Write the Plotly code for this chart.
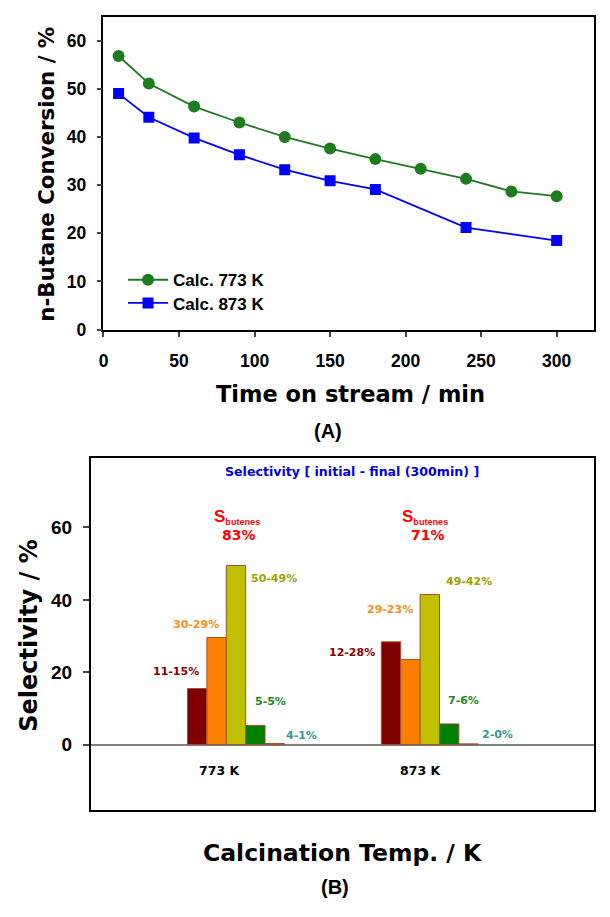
import plotly.graph_objects as go

# ---------- Data (A) ----------
time_773 = [10, 30, 60, 90, 120, 150, 180, 210, 240, 270, 300]
conv_773 = [56.8, 51.1, 46.3, 43.0, 40.0, 37.6, 35.4, 33.4, 31.3, 28.7, 27.7]
time_873 = [10, 30, 60, 90, 120, 150, 180, 240, 300]
conv_873 = [49.0, 44.1, 39.8, 36.3, 33.2, 30.9, 29.1, 21.2, 18.5]
x_ticks_a = [0, 50, 100, 150, 200, 250, 300]
y_ticks_a = [0, 10, 20, 30, 40, 50, 60]

# ---------- Data (B) ----------
calc_temps = ["773 K", "873 K"]
calc_pos = [1, 2]
sel_series = ["s1", "s2", "s3", "s4", "s5"]
sel_values = [
    [15.5, 28.4],
    [29.6, 23.5],
    [49.5, 41.5],
    [5.3, 5.7],
    [0.3, 0.2],
]
sel_labels = [
    ["11-15%", "12-28%"],
    ["30-29%", "29-23%"],
    ["50-49%", "49-42%"],
    ["5-5%", "7-6%"],
    ["4-1%", "2-0%"],
]
s_butenes = ["83%", "71%"]
y_ticks_b = [0, 20, 40, 60]

bar_colors = ["#800000", "#FF8000", "#C0C000", "#008000", "#2E9A9A"]
label_colors = ["#8B0000", "#FF8C1A", "#A0A000", "#1E8A1E", "#2E9A9A"]

W, H = 610, 917
def px(x):
    return x / W
def py(y):
    return 1 - y / H

fig = go.Figure()

# (A) lines
fig.add_trace(go.Scatter(
    x=time_773, y=conv_773, mode="lines+markers", name="Calc. 773 K",
    line=dict(color="#1E7B1E", width=1.8),
    marker=dict(symbol="circle", size=12, color="#1E7B1E"),
    xaxis="x", yaxis="y", legend="legend"))
fig.add_trace(go.Scatter(
    x=time_873, y=conv_873, mode="lines+markers", name="Calc. 873 K",
    line=dict(color="#0000FF", width=1.8),
    marker=dict(symbol="square", size=11, color="#0000FF"),
    xaxis="x", yaxis="y", legend="legend2"))

# (B) bars
for i, name in enumerate(sel_series):
    fig.add_trace(go.Bar(
        x=calc_pos, y=sel_values[i], name=name, showlegend=False,
        marker=dict(color=bar_colors[i], line=dict(color="#A0522D", width=1)),
        xaxis="x2", yaxis="y2"))

annotations = []
# bar labels
offsets = [
    [-0.308, -0.399],
    [-0.205, -0.206],
    [0.194, 0.200],
    [0.176, 0.176],
    [0.340, 0.347],
]
label_y = [
    [20.3, 25.5],
    [33.1, 37.4],
    [45.9, 45.1],
    [11.9, 12.1],
    [2.4, 2.7],
]
for i in range(5):
    for j in range(2):
        annotations.append(dict(
            x=calc_pos[j] + offsets[i][j], y=label_y[i][j], xref="x2", yref="y2",
            xanchor="center", yanchor="middle",
            text=sel_labels[i][j], showarrow=False,
            font=dict(family="DejaVu Sans", size=11, color=label_colors[i], weight="bold")))

sb_dx = [0.006, -0.024]
pct_dx = [0.016, -0.010]
temp_dx = [-0.086, -0.050]
for j in range(2):
    annotations.append(dict(
        x=calc_pos[j] + sb_dx[j], y=62.8, xref="x2", yref="y2",
        xanchor="center", yanchor="middle",
        text="<span style='font-size:17px'>S</span><sub>butenes</sub>", showarrow=False,
        font=dict(family="Liberation Sans", size=13, color="#FF0000", weight="bold")))
    annotations.append(dict(
        x=calc_pos[j] + pct_dx[j], y=57.8, xref="x2", yref="y2",
        xanchor="center", yanchor="middle",
        text=s_butenes[j], showarrow=False,
        font=dict(family="DejaVu Sans", size=14, color="#FF0000", weight="bold")))
    annotations.append(dict(
        x=calc_pos[j] + temp_dx[j], y=-7.3, xref="x2", yref="y2",
        xanchor="center", yanchor="middle",
        text=calc_temps[j], showarrow=False,
        font=dict(family="DejaVu Sans", size=12.5, color="#000000", weight="bold")))

annotations.append(dict(
    x=px(350), y=py(477), xref="paper", yref="paper", xanchor="center", yanchor="middle",
    text="Selectivity [ initial - final (300min) ]", showarrow=False,
    font=dict(family="DejaVu Sans", size=12.6, color="#0000E0", weight="bold")))

# axis titles
def title(x, y, text, size, angle=0, bold=True, family="DejaVu Sans"):
    return dict(x=px(x), y=py(y), xref="paper", yref="paper", xanchor="center",
                yanchor="middle", text=text, textangle=angle, showarrow=False,
                font=dict(family=family, size=size, color="#000000",
                          weight="bold" if bold else "normal"))

annotations += [
    title(41, 176, "n-Butane Conversion / %", 21.3, -90),
    title(348, 398, "Time on stream / min", 22.5),
    title(326, 436, "(A)", 20, 0, True, "Liberation Sans"),
    title(24, 642, "Selectivity / %", 24, -90),
    title(340, 862, "Calcination Temp. / K", 23.5),
    title(333, 897, "(B)", 20, 0, True, "Liberation Sans"),
]

tick_font_a = dict(family="Liberation Sans", size=17.5, color="#000000", weight="bold")
tick_font_b = dict(family="Liberation Sans", size=19, color="#000000", weight="bold")
legend_font = dict(family="Liberation Sans", size=17, color="#000000", weight="bold")

fig.update_layout(
    width=W, height=H,
    margin=dict(l=0, r=0, t=0, b=0),
    paper_bgcolor="white", plot_bgcolor="white",
    barmode="group", bargap=0.5, bargroupgap=0,
    showlegend=True,
    legend=dict(x=px(119), y=py(283.3), xanchor="left", yanchor="middle",
                bgcolor="rgba(0,0,0,0)", itemwidth=40, font=legend_font),
    legend2=dict(x=px(119), y=py(306.7), xanchor="left", yanchor="middle",
                 bgcolor="rgba(0,0,0,0)", itemwidth=40, font=legend_font),
    xaxis=dict(domain=[px(99.3), px(594.3)], anchor="y", range=[0, 325],
               tickvals=x_ticks_a, ticks="outside", ticklen=5, tickwidth=1.5,
               ticklabelstandoff=9,
               showline=True, linecolor="black", linewidth=1.7, mirror=True,
               showgrid=False, zeroline=False, tickfont=tick_font_a),
    yaxis=dict(domain=[py(333.3), py(16.7)], anchor="x", range=[0, 65],
               tickvals=y_ticks_a, ticks="outside", ticklen=5, tickwidth=1.5,
               ticklabelstandoff=7,
               showline=True, linecolor="black", linewidth=1.7, mirror=True,
               showgrid=False, zeroline=False, tickfont=tick_font_a),
    xaxis2=dict(domain=[px(86.7), px(594)], anchor="y2", range=[0.252, 2.848],
                showticklabels=False, ticks="",
                showline=True, linecolor="black", linewidth=2.2, mirror=True,
                showgrid=False, zeroline=False),
    yaxis2=dict(domain=[py(819), py(462.7)], anchor="x2", range=[-18.1, 79.3],
                tickvals=y_ticks_b, ticks="outside", ticklen=6, tickwidth=1.5,
                ticklabelstandoff=7,
                showline=True, linecolor="black", linewidth=2.2, mirror=True,
                showgrid=False, zeroline=True, zerolinecolor="#808080", zerolinewidth=1.5,
                tickfont=tick_font_b),
    annotations=annotations,
)

fig.write_html("out.html", config={"displayModeBar": False},
               post_script="document.body.style.margin='0';document.body.style.overflow='hidden';")
